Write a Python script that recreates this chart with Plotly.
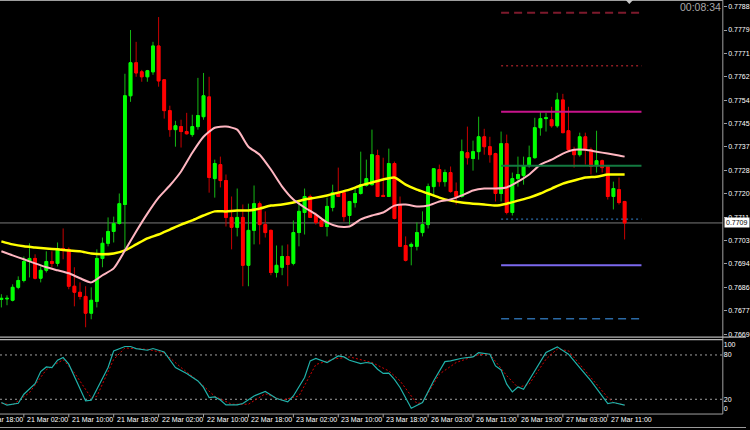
import plotly.graph_objects as go

# ---------------- data ----------------
bars = list(range(112))  # hourly bars, 20 Mar 22:00 ... 27 Mar 14:00

open_ = [0.76816, 0.76818, 0.76813, 0.76860, 0.76885, 0.76954, 0.76965, 0.76893, 0.76922, 0.76954,
         0.76947, 0.77001, 0.76998, 0.76864, 0.76842, 0.76827, 0.76766, 0.76809, 0.76965, 0.77020,
         0.77063, 0.77092, 0.77161, 0.77556, 0.77676, 0.77643, 0.77625, 0.77643, 0.77737, 0.77614,
         0.77502, 0.77433, 0.77444, 0.77426, 0.77415, 0.77444, 0.77480, 0.77552, 0.77255, 0.77306,
         0.77248, 0.77114, 0.77078, 0.77114, 0.76940, 0.77067, 0.77164, 0.77088, 0.77067, 0.76914,
         0.76933, 0.76972, 0.76947, 0.77059, 0.77132, 0.77190, 0.77121, 0.77103, 0.77081, 0.77150,
         0.77204, 0.77204, 0.77121, 0.77168, 0.77201, 0.77230, 0.77233, 0.77339, 0.77194, 0.77190,
         0.77310, 0.77161, 0.77012, 0.77009, 0.77009, 0.77059, 0.77088, 0.77226, 0.77288, 0.77244,
         0.77277, 0.77208, 0.77190, 0.77349, 0.77328, 0.77353, 0.77407, 0.77371, 0.77346, 0.77201,
         0.77382, 0.77132, 0.77255, 0.77266, 0.77302, 0.77331, 0.77440, 0.77473, 0.77469, 0.77447,
         0.77541, 0.77429, 0.77360, 0.77342, 0.77407, 0.77360, 0.77302, 0.77320, 0.77299, 0.77190,
         0.77215, 0.77172]
high = [0.76835, 0.76831, 0.76871, 0.76900, 0.76972, 0.77020, 0.76980, 0.76936, 0.76991, 0.76991,
        0.77023, 0.77074, 0.77005, 0.76933, 0.76878, 0.76864, 0.76860, 0.76998, 0.77041, 0.77114,
        0.77117, 0.77201, 0.77636, 0.77795, 0.77752, 0.77650, 0.77650, 0.77752, 0.77842, 0.77614,
        0.77520, 0.77465, 0.77469, 0.77494, 0.77487, 0.77621, 0.77639, 0.77625, 0.77324, 0.77335,
        0.77270, 0.77190, 0.77219, 0.77161, 0.77164, 0.77230, 0.77172, 0.77136, 0.77070, 0.77012,
        0.77012, 0.77016, 0.77103, 0.77172, 0.77219, 0.77197, 0.77132, 0.77114, 0.77186, 0.77233,
        0.77295, 0.77208, 0.77174, 0.77223, 0.77353, 0.77324, 0.77433, 0.77360, 0.77331, 0.77364,
        0.77317, 0.77190, 0.77045, 0.77023, 0.77096, 0.77136, 0.77237, 0.77293, 0.77306, 0.77288,
        0.77299, 0.77241, 0.77397, 0.77444, 0.77393, 0.77480, 0.77436, 0.77407, 0.77349, 0.77426,
        0.77415, 0.77277, 0.77335, 0.77335, 0.77375, 0.77476, 0.77498, 0.77494, 0.77516, 0.77567,
        0.77563, 0.77516, 0.77371, 0.77422, 0.77422, 0.77368, 0.77429, 0.77324, 0.77302, 0.77244,
        0.77259, 0.77174]
low = [0.76787, 0.76795, 0.76809, 0.76853, 0.76878, 0.76896, 0.76889, 0.76878, 0.76914, 0.76933,
       0.76936, 0.76962, 0.76853, 0.76791, 0.76816, 0.76715, 0.76744, 0.76787, 0.76933, 0.77009,
       0.77023, 0.77088, 0.76998, 0.77534, 0.77625, 0.77607, 0.77607, 0.77632, 0.77589, 0.77473,
       0.77407, 0.77371, 0.77368, 0.77415, 0.77407, 0.77433, 0.77469, 0.77204, 0.77186, 0.77223,
       0.77081, 0.76998, 0.77045, 0.76864, 0.76864, 0.77016, 0.77016, 0.77041, 0.76904, 0.76896,
       0.76904, 0.76864, 0.76940, 0.77009, 0.77052, 0.77112, 0.77088, 0.77079, 0.77045, 0.77136,
       0.77188, 0.77099, 0.77088, 0.77150, 0.77197, 0.77226, 0.77230, 0.77188, 0.77188, 0.77188,
       0.77107, 0.77007, 0.76954, 0.76940, 0.76994, 0.77045, 0.77074, 0.77190, 0.77226, 0.77226,
       0.77204, 0.77161, 0.77186, 0.77306, 0.77284, 0.77324, 0.77342, 0.77313, 0.77172, 0.77172,
       0.77125, 0.77121, 0.77226, 0.77233, 0.77295, 0.77328, 0.77411, 0.77426, 0.77440, 0.77440,
       0.77420, 0.77353, 0.77295, 0.77335, 0.77306, 0.77270, 0.77277, 0.77277, 0.77179, 0.77143,
       0.77161, 0.77034]
close = [0.76820, 0.76820, 0.76860, 0.76885, 0.76954, 0.76965, 0.76893, 0.76922, 0.76954, 0.76947,
         0.77001, 0.76994, 0.76864, 0.76842, 0.76827, 0.76766, 0.76813, 0.76965, 0.77020, 0.77063,
         0.77092, 0.77164, 0.77556, 0.77676, 0.77639, 0.77625, 0.77647, 0.77737, 0.77610, 0.77502,
         0.77433, 0.77447, 0.77426, 0.77418, 0.77444, 0.77484, 0.77556, 0.77259, 0.77310, 0.77248,
         0.77114, 0.77078, 0.77114, 0.76940, 0.77067, 0.77164, 0.77088, 0.77059, 0.76914, 0.76940,
         0.76972, 0.76943, 0.77059, 0.77136, 0.77190, 0.77114, 0.77096, 0.77081, 0.77154, 0.77204,
         0.77190, 0.77117, 0.77172, 0.77201, 0.77233, 0.77255, 0.77342, 0.77190, 0.77190, 0.77310,
         0.77110, 0.77009, 0.76958, 0.77016, 0.77059, 0.77088, 0.77226, 0.77291, 0.77244, 0.77277,
         0.77208, 0.77190, 0.77353, 0.77331, 0.77353, 0.77407, 0.77371, 0.77342, 0.77201, 0.77382,
         0.77132, 0.77255, 0.77270, 0.77302, 0.77331, 0.77440, 0.77473, 0.77476, 0.77447, 0.77541,
         0.77422, 0.77360, 0.77342, 0.77407, 0.77360, 0.77299, 0.77320, 0.77295, 0.77190, 0.77219,
         0.77168, 0.77094]

ma_bars = [0, 2, 4, 6, 8, 10, 12, 14, 16, 18, 20, 22, 24, 26, 28, 30, 32, 34, 36, 38, 40, 42, 44, 46,
           48, 50, 52, 54, 56, 58, 60, 62, 64, 66, 68, 70, 72, 74, 76, 78, 80, 82, 84, 86, 88, 90, 92,
           94, 96, 98, 100, 102, 104, 106, 108, 110, 111]
ma_fast = [0.76991, 0.76976, 0.76962, 0.76947, 0.76933, 0.76922, 0.76911, 0.76893, 0.76878, 0.76904,
           0.76929, 0.76994, 0.77063, 0.77128, 0.77186, 0.77230, 0.77281, 0.77349, 0.77407, 0.77440,
           0.77444, 0.77433, 0.77371, 0.77342, 0.77288, 0.77226, 0.77179, 0.77150, 0.77125, 0.77096,
           0.77081, 0.77081, 0.77107, 0.77121, 0.77132, 0.77157, 0.77161, 0.77154, 0.77157, 0.77172,
           0.77179, 0.77194, 0.77212, 0.77219, 0.77219, 0.77223, 0.77244, 0.77270, 0.77306, 0.77324,
           0.77346, 0.77360, 0.77360, 0.77353, 0.77346, 0.77339, 0.77335]
ma_slow = [0.77027, 0.77016, 0.77009, 0.77005, 0.77001, 0.76998, 0.76994, 0.76991, 0.76983, 0.76980,
           0.76983, 0.76994, 0.77016, 0.77038, 0.77052, 0.77070, 0.77088, 0.77103, 0.77121, 0.77136,
           0.77136, 0.77139, 0.77139, 0.77146, 0.77157, 0.77161, 0.77168, 0.77179, 0.77186, 0.77194,
           0.77204, 0.77215, 0.77230, 0.77241, 0.77252, 0.77259, 0.77233, 0.77215, 0.77201, 0.77186,
           0.77175, 0.77168, 0.77164, 0.77161, 0.77157, 0.77164, 0.77175, 0.77186, 0.77201, 0.77219,
           0.77237, 0.77248, 0.77259, 0.77262, 0.77270, 0.77270, 0.77270]

stoch_bars = [0, 1, 3, 4, 6, 7, 8, 9, 10, 11, 12, 13, 14, 15, 16, 17, 19, 20, 22, 23, 24, 26, 27, 29,
              30, 31, 33, 35, 36, 37, 38, 39, 40, 42, 43, 45, 47, 49, 51, 52, 54, 55, 56, 58, 59, 60,
              61, 62, 64, 65, 66, 67, 68, 69, 70, 71, 73, 75, 77, 79, 80, 82, 84, 85, 87, 88, 89, 90,
              91, 92, 93, 95, 97, 99, 101, 103, 105, 108, 109, 111]
stoch_main = [15.6, 12, 14.6, 26.8, 41, 57.6, 63.8, 63, 73, 76.5, 67.5, 51.6, 33.6, 17.8, 18.7, 33.6,
              63, 85.5, 91.5, 91.5, 88.7, 86.4, 88.7, 84, 74, 63, 55, 44.9, 36, 22.3, 23.2, 19.1, 12.4,
              12.4, 14.2, 24.5, 30.5, 21, 16.4, 24.5, 49.5, 72, 75.2, 69.8, 74.3, 78.7, 77.4, 72.9,
              68.4, 69.8, 68.6, 60.7, 55, 55.3, 47, 36, 7.9, 15.6, 45, 71, 72, 75.6, 77.4, 83.3, 81,
              65.2, 59.8, 40.4, 30, 36.7, 33.6, 58.4, 83.3, 91, 81, 63, 45, 14.2, 15.6, 12]
signal_bars = [0, 2, 5, 8, 11, 13, 16, 17, 20, 22, 26, 29, 32, 35, 38, 41, 44, 47, 50, 53, 56, 59, 62,
               66, 69, 71, 74, 75, 78, 81, 85, 87, 90, 92, 94, 97, 99, 101, 104, 108, 109, 111]
stoch_signal = [14.6, 12.4, 29, 60, 73.6, 56, 22, 24, 74, 89.5, 87.6, 82.8, 63, 45, 24, 13.3, 13.3,
                27.5, 18.8, 24.5, 67, 74.3, 77.4, 69.8, 58.4, 45, 14.2, 15.6, 54, 69.8, 80.3, 81, 52,
                36, 40.4, 74.3, 88, 85.6, 58.4, 22.3, 15.6, 12]

level_prices = [0.77858, 0.77665, 0.77498, 0.77302, 0.77108, 0.76940, 0.76746]
level_colors = ["#7d1a2c", "#8e1c22", "#c8148c", "#137a40", "#2b6aa6", "#7b68ee", "#2b6aa6"]
level_dash = ["8px,5px", "2px,3px", "solid", "solid", "2px,3px", "solid", "8px,5px"]
level_width = [2, 1.5, 2, 2, 1.2, 2, 1.5]
level_start_bar, level_end_bar = 89, 114

price_tick_vals = [0.76690, 0.76775, 0.76860, 0.76945, 0.77030, 0.77115, 0.77200, 0.77285,
                   0.77370, 0.77455, 0.77540, 0.77625, 0.77710, 0.77795, 0.77880]
price_tick_text = ["0.7669", "0.7677", "0.7686", "0.7694", "0.7703", "0.7711", "0.7720", "0.7728",
                   "0.7737", "0.7745", "0.7754", "0.7762", "0.7771", "0.7779", "0.7788"]

time_tick_bars = [-4, 4, 12, 20, 28, 36, 44, 52, 60, 68, 76, 84, 92, 100, 108]
time_tick_text = ["20 Mar 18:00", "21 Mar 02:00", "21 Mar 10:00", "21 Mar 18:00", "22 Mar 02:00",
                  "22 Mar 10:00", "22 Mar 18:00", "23 Mar 02:00", "23 Mar 10:00", "23 Mar 18:00",
                  "26 Mar 03:00", "26 Mar 11:00", "26 Mar 19:00", "27 Mar 03:00", "27 Mar 11:00"]

osc_tick_vals = [94.6, 80, 20, 6.8]
osc_tick_text = ["100", "80", "20", "0"]
osc_levels = [80, 20]

timer_text = "00:08:34"
price_label = "0.7709"

# ---------------- layout constants ----------------
W, H = 750, 430
XR = [-0.248, 128.49]
XDOM = [0, 726.7 / W]
Y_MAIN_DOM = [1 - 337.5 / H, 1]
Y_MAIN_RANGE = [0.766806, 0.77904]
Y_OSC_DOM = [1 - 415 / H, 1 - 341 / H]
FONT = "Liberation Sans, Arial, sans-serif"
GRID = "#a0a0a0"

fig = go.Figure()

# wick layer (slightly darker like the reference)
fig.add_trace(go.Candlestick(
    x=bars, open=open_, high=high, low=low, close=close,
    increasing=dict(line=dict(color="#14b814", width=1), fillcolor="#00ff00"),
    decreasing=dict(line=dict(color="#c80000", width=1), fillcolor="#ff0000"),
    hoverinfo="skip", showlegend=False, xaxis="x", yaxis="y"))
# body layer
body_hi = [max(o, c) for o, c in zip(open_, close)]
body_lo = [min(o, c) for o, c in zip(open_, close)]
fig.add_trace(go.Candlestick(
    x=bars, open=open_, high=body_hi, low=body_lo, close=close,
    increasing=dict(line=dict(color="#00ff00", width=1), fillcolor="#00ff00"),
    decreasing=dict(line=dict(color="#ff0000", width=1), fillcolor="#ff0000"),
    hoverinfo="skip", showlegend=False, xaxis="x", yaxis="y"))

fig.add_trace(go.Scatter(x=ma_bars, y=ma_slow, mode="lines",
                         line=dict(color="#ffff00", width=2.5, shape="spline", smoothing=0.6),
                         hoverinfo="skip", showlegend=False, xaxis="x", yaxis="y"))
fig.add_trace(go.Scatter(x=ma_bars, y=ma_fast, mode="lines",
                         line=dict(color="#ffb6c1", width=2, shape="spline", smoothing=0.6),
                         hoverinfo="skip", showlegend=False, xaxis="x", yaxis="y"))

fig.add_trace(go.Scatter(x=signal_bars, y=stoch_signal, mode="lines",
                         line=dict(color="#d00000", width=1, dash="2px,2px"),
                         hoverinfo="skip", showlegend=False, xaxis="x2", yaxis="y2"))
fig.add_trace(go.Scatter(x=stoch_bars, y=stoch_main, mode="lines",
                         line=dict(color="#20b2aa", width=1.2),
                         hoverinfo="skip", showlegend=False, xaxis="x2", yaxis="y2"))

shapes = []
# current price line
cur = close[-1]
shapes.append(dict(type="line", xref="paper", yref="y", x0=XDOM[0], x1=XDOM[1], y0=cur, y1=cur,
                   line=dict(color="#7a7a7a", width=1), layer="below"))
# pivot-style level lines
for p, c, d, w in zip(level_prices, level_colors, level_dash, level_width):
    shapes.append(dict(type="line", xref="x", yref="y", x0=level_start_bar, x1=level_end_bar,
                       y0=p, y1=p, line=dict(color=c, width=w, dash=d)))
# oscillator levels
for lv in osc_levels:
    shapes.append(dict(type="line", xref="paper", yref="y2", x0=XDOM[0], x1=XDOM[1], y0=lv, y1=lv,
                       line=dict(color=GRID, width=1, dash="2px,3px"), layer="below"))
# frame lines
def pline(x0, y0, x1, y1, color=GRID, width=1):
    shapes.append(dict(type="line", xref="paper", yref="paper",
                       x0=x0 / W, x1=x1 / W, y0=1 - y0 / H, y1=1 - y1 / H,
                       line=dict(color=color, width=width)))
pline(0, 0.5, 726.7, 0.5)
pline(726.7, 0, 726.7, 415)
pline(0, 338, 750, 338, "#b4b4b4", 1.2)
pline(0, 340.5, 726.7, 340.5, "#b4b4b4", 1.2)
pline(0, 415, 726.7, 415)
pline(0, 428.5, 750, 428.5, "#9a9a9a", 1)
# chart shift marker
shapes.append(dict(type="path", xref="paper", yref="paper",
                   path="M %f,%f L %f,%f L %f,%f Z" % (629 / W, 1, 636.5 / W, 1, 632.7 / W, 1 - 4 / H),
                   fillcolor="#c8c8c8", line=dict(width=0)))
# time ticks
for b in time_tick_bars[1:]:
    shapes.append(dict(type="line", xref="x2", yref="paper", x0=b, x1=b,
                       y0=1 - 415 / H, y1=1 - 418.5 / H, line=dict(color=GRID, width=1)))

annotations = []
lab_y = 1 - 420.8 / H
for b, t in zip(time_tick_bars, time_tick_text):
    if b < XR[0]:
        xp = XDOM[0] + (b - XR[0]) / (XR[1] - XR[0]) * (XDOM[1] - XDOM[0])
        annotations.append(dict(x=xp, y=lab_y, xref="paper", yref="paper", text=t, showarrow=False,
                                xanchor="left", yanchor="middle", xshift=1,
                                font=dict(family=FONT, size=7, color="#ffffff")))
    else:
        annotations.append(dict(x=b, y=lab_y, xref="x2", yref="paper", text=t, showarrow=False,
                                xanchor="left", yanchor="middle", xshift=1,
                                font=dict(family=FONT, size=7, color="#ffffff")))
annotations.append(dict(x=722 / W, y=1 - 7.5 / H, xref="paper", yref="paper", text=timer_text,
                        showarrow=False, xanchor="right", yanchor="middle", xshift=5,
                        font=dict(family=FONT, size=10.5, color="#a8a8a8")))
annotations.append(dict(x=727.5 / W, y=cur, xref="paper", yref="y", text=price_label,
                        showarrow=False, xanchor="left", yanchor="middle", bgcolor="#ffffff",
                        borderpad=1, font=dict(family=FONT, size=7, color="#000000")))

fig.update_layout(
    width=W, height=H, autosize=False,
    margin=dict(l=0, r=0, t=0, b=0),
    paper_bgcolor="#000000", plot_bgcolor="#000000",
    showlegend=False, hovermode=False,
    shapes=shapes, annotations=annotations,
    xaxis=dict(domain=XDOM, range=XR, anchor="y", showticklabels=False, showgrid=False,
               zeroline=False, showline=False, ticks="", rangeslider=dict(visible=False),
               fixedrange=True),
    yaxis=dict(domain=Y_MAIN_DOM, range=Y_MAIN_RANGE, anchor="x", side="right", showgrid=False,
               zeroline=False, showline=False, tickvals=price_tick_vals, ticktext=price_tick_text,
               ticks="outside", ticklen=3, tickcolor=GRID, tickwidth=1,
               tickfont=dict(family=FONT, size=7, color="#ffffff"), fixedrange=True),
    xaxis2=dict(domain=XDOM, range=XR, anchor="y2", showticklabels=False, showgrid=False,
                zeroline=False, showline=False, ticks="", fixedrange=True),
    yaxis2=dict(domain=Y_OSC_DOM, range=[0, 100], anchor="x2", side="right", showgrid=False,
                zeroline=False, showline=False, tickvals=osc_tick_vals, ticktext=osc_tick_text,
                ticks="", tickfont=dict(family=FONT, size=7, color="#ffffff"), fixedrange=True),
)

fig.write_html("out.html", config={"displayModeBar": False},
               post_script="document.body.style.margin='0';document.body.style.background='#000';")
